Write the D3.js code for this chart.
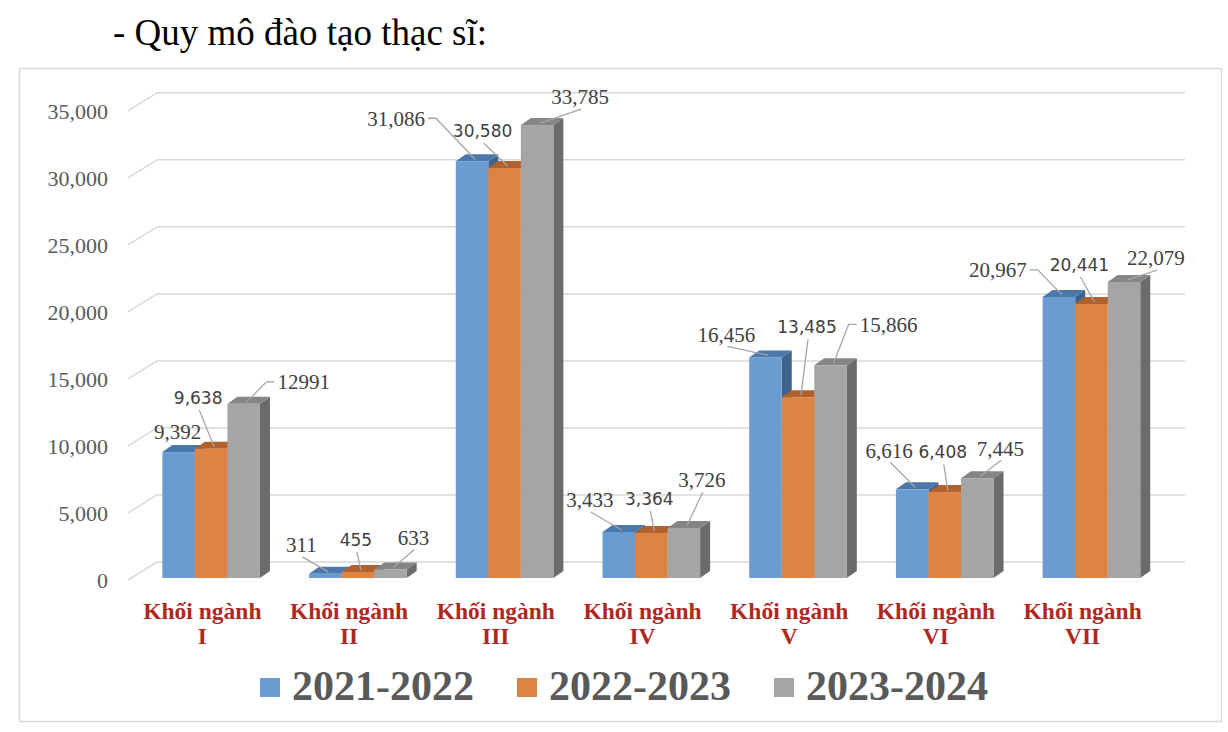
<!DOCTYPE html>
<html>
<head>
<meta charset="utf-8">
<script src="https://cdn.jsdelivr.net/npm/d3@7"></script>
<style>
  html, body { margin: 0; padding: 0; background: #fff; }
  svg { display: block; }
</style>
</head>
<body>
<svg id="chart" width="1228" height="732"></svg>
<script>
// ---------- DATA ----------
const titleText = "- Quy mô đào tạo thạc sĩ:";
const categories = ["Khối ngành I", "Khối ngành II", "Khối ngành III", "Khối ngành IV", "Khối ngành V", "Khối ngành VI", "Khối ngành VII"];
const seriesNames = ["2021-2022", "2022-2023", "2023-2024"];
const values2122 = [9392, 311, 31086, 3433, 16456, 6616, 20967];
const values2223 = [9638, 455, 30580, 3364, 13485, 6408, 20441];
const values2324 = [12991, 633, 33785, 3726, 15866, 7445, 22079];
const labels2122 = ["9,392", "311", "31,086", "3,433", "16,456", "6,616", "20,967"];
const labels2223 = ["9,638", "455", "30,580", "3,364", "13,485", "6,408", "20,441"];
const labels2324 = ["12991", "633", "33,785", "3,726", "15,866", "7,445", "22,079"];
const yTicks = [0, 5000, 10000, 15000, 20000, 25000, 30000, 35000];

// ---------- STYLE / LAYOUT ----------
const colors = [
  { front: "#6A9BD1", top: "#4B78AA", side: "#40638D" },
  { front: "#DF8342", top: "#B0612D", side: "#9A5426" },
  { front: "#A5A5A5", top: "#858585", side: "#6B6B6B" }
];
const labelFonts = [
  { family: "'Liberation Serif', 'Times New Roman', serif", size: 21 },
  { family: "'DejaVu Sans', Verdana, sans-serif", size: 17 },
  { family: "'Liberation Serif', 'Times New Roman', serif", size: 21 }
];
// data-label placement relative to bar top (dx, dy, leader type)
const labelLayout = [
  [[-1,-20,"n"],[-24,-29,"b"],[-76,-43,"r"],[-29,-32,"b"],[-39,-23,"b"],[-23,-39,"b"],[-61,-27,"r"]],
  [[-13,-51,"b"],[-2,-32,"b"],[-22,-37,"b"],[-2,-34,"b"],[9,-70,"b"],[-2,-40,"b"],[-12,-39,"b"]],
  [[60,-22,"l"],[23,-32,"b"],[43,-28,"b"],[18,-48,"b"],[58,-41,"l"],[23,-30,"b"],[32,-24,"b"]]
];

const svg = d3.select("#chart");

// Title
svg.append("text")
  .attr("x", 113).attr("y", 45)
  .attr("font-family", "'Liberation Serif', 'Times New Roman', serif")
  .attr("font-size", 37)
  .attr("fill", "#000")
  .text(titleText);

// Chart border
svg.append("rect")
  .attr("x", 19.5).attr("y", 68.5).attr("width", 1202).attr("height", 653)
  .attr("fill", "#fff").attr("stroke", "#D9D9D9").attr("stroke-width", 1.5);

// Scales
const barBase = 578;
const y = d3.scaleLinear().domain([0, 35000]).range([barBase, barBase - 469.2]);
const x = d3.scaleBand().domain(categories).range([129, 1156]);
const xs = d3.scaleBand().domain(seriesNames).range([-40, 57.6]);
const depth = { dx: 29, dy: -18 };   // wall depth
const bd = { dx: 10, dy: -7 };       // bar depth
const wallLeft = 128, wallRight = 1185;

// Gridlines (3D: diagonal on side wall + back wall line)
const grid = svg.append("g");
yTicks.forEach(v => {
  const yf = y(v) + 2;
  const yb = yf + depth.dy;
  grid.append("line")
    .attr("x1", wallLeft).attr("y1", yf).attr("x2", wallLeft + depth.dx).attr("y2", yb)
    .attr("stroke", "#D9D9D9").attr("stroke-width", 1.5);
  grid.append("line")
    .attr("x1", wallLeft + depth.dx).attr("y1", yb).attr("x2", wallRight).attr("y2", yb)
    .attr("stroke", "#D9D9D9").attr("stroke-width", 1.5);
  grid.append("text")
    .attr("x", 108).attr("y", yf).attr("dy", "0.35em")
    .attr("text-anchor", "end")
    .attr("font-family", "'Liberation Serif', 'Times New Roman', serif")
    .attr("font-size", 22).attr("fill", "#595959")
    .text(d3.format(",")(v));
});

// Bars
const allValues = [values2122, values2223, values2324];
const allLabels = [labels2122, labels2223, labels2324];
const bw = xs.bandwidth();
const bars = svg.append("g");
categories.forEach((c, ci) => {
  const cx = x(c) + x.bandwidth() / 2;
  seriesNames.forEach((s, si) => {
    const v = allValues[si][ci];
    const x0 = cx + xs(s);
    const yt = y(v);
    const y0 = y(0);
    const col = colors[si];
    bars.append("polygon")
      .attr("points", [[x0 + bw, yt], [x0 + bw + bd.dx, yt + bd.dy], [x0 + bw + bd.dx, y0 + bd.dy], [x0 + bw, y0]].map(p => p.join(",")).join(" "))
      .attr("fill", col.side);
    bars.append("polygon")
      .attr("points", [[x0, yt], [x0 + bd.dx, yt + bd.dy], [x0 + bw + bd.dx, yt + bd.dy], [x0 + bw, yt]].map(p => p.join(",")).join(" "))
      .attr("fill", col.top);
    bars.append("rect")
      .attr("x", x0).attr("y", yt).attr("width", bw).attr("height", y0 - yt)
      .attr("fill", col.front);
  });
});

// Data labels with leader lines
const lab = svg.append("g");
categories.forEach((c, ci) => {
  const cx = x(c) + x.bandwidth() / 2;
  seriesNames.forEach((s, si) => {
    const v = allValues[si][ci];
    const ax = cx + xs(s) + bw / 2;
    const ay = y(v);
    const [dx, dy, type] = labelLayout[si][ci];
    const lx = ax + dx, ly = ay + dy;
    const f = labelFonts[si];
    const t = lab.append("text")
      .attr("x", lx).attr("y", ly).attr("dy", "0.35em")
      .attr("text-anchor", "middle")
      .attr("font-family", f.family).attr("font-size", f.size)
      .attr("fill", "#404040")
      .text(allLabels[si][ci]);
    const tw = t.node().getComputedTextLength();
    let pts = null;
    const end = [ax + 3, ay - 2];
    if (type === "b") pts = [[lx + 1, ly + 12], end];
    else if (type === "l") pts = [[lx - tw / 2 - 3, ly], [lx - tw / 2 - 11, ly], end];
    else if (type === "r") pts = [[lx + tw / 2 + 3, ly], [lx + tw / 2 + 11, ly], end];
    if (pts) {
      lab.insert("polyline", "text")
        .attr("points", pts.map(p => p.join(",")).join(" "))
        .attr("fill", "none").attr("stroke", "#A6A6A6").attr("stroke-width", 1.3);
    }
  });
});

// Category labels
const catG = svg.append("g");
categories.forEach(c => {
  const cx = x(c) + x.bandwidth() / 2;
  const idx = c.lastIndexOf(" ");
  const lines = [c.slice(0, idx), c.slice(idx + 1)];
  const t = catG.append("text")
    .attr("text-anchor", "middle")
    .attr("font-family", "'Liberation Serif', 'Times New Roman', serif")
    .attr("font-weight", "bold").attr("font-size", 23.5)
    .attr("fill", "#B0271F");
  lines.forEach((ln, li) => {
    t.append("tspan").attr("x", cx).attr("y", 619 + li * 25).text(ln);
  });
});

// Legend
const leg = svg.append("g");
let lxPos = 260;
seriesNames.forEach((s, si) => {
  leg.append("rect")
    .attr("x", lxPos).attr("y", 678).attr("width", 20).attr("height", 19)
    .attr("fill", colors[si].front);
  const t = leg.append("text")
    .attr("x", lxPos + 32).attr("y", 700)
    .attr("font-family", "'Liberation Serif', 'Times New Roman', serif")
    .attr("font-weight", "bold").attr("font-size", 42)
    .attr("fill", "#595959")
    .text(s);
  lxPos += 32 + t.node().getComputedTextLength() + 43;
});
</script>
</body>
</html>
